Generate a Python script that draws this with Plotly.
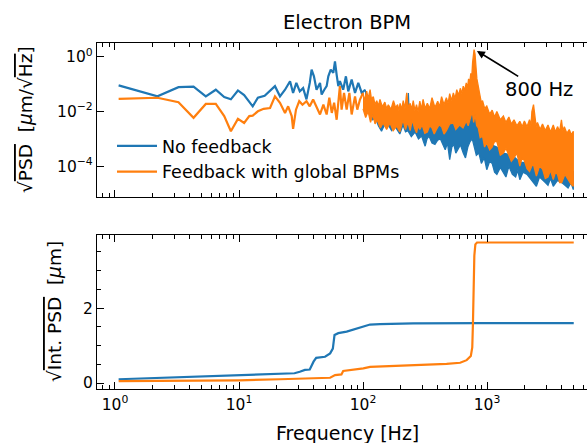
import plotly.graph_objects as go

# ---------------- data ----------------
# top panel: sqrt(PSD) [um/sqrt(Hz)], low-frequency part drawn as line
nf_f = [1.07, 2.2, 3.25, 4.3, 5.4, 6.5, 7.6, 8.6, 9.8, 11.0, 12.9, 14.2, 16.1, 19.5, 21.4,
        23.5, 25.8, 27.3, 29.0, 30.9, 32.9, 35.0, 37.2, 38.5, 40.2, 42.2, 45.0, 46.4, 48.7,
        50.9, 52.5, 54.9, 57.6, 59.4, 61.3, 63.2, 65.1, 69.2, 72.8, 76.0, 81.0, 86.2, 91.6,
        97.6, 104]
nf_psd = [9.1e-2, 3.6e-2, 7.8e-2, 8.1e-2, 3.6e-2, 6.3e-2, 3.4e-2, 2.8e-2, 5.9e-2, 4.0e-2,
          1.55e-2, 3.2e-2, 3.8e-2, 8.5e-2, 3.6e-2, 6.3e-2, 1.29e-1, 4.8e-2, 1.12e-1, 5.5e-2,
          7.2e-2, 2.8e-2, 1.12e-1, 3.4e-1, 1.95e-1, 6.3e-2, 1.12e-1, 4.2e-2, 6.3e-2, 8.5e-2,
          1.95e-1, 3.4e-1, 2.6e-1, 6.9e-1, 2.2e-1, 8.5e-2, 1.29e-1, 6.3e-2, 1.95e-1, 5.5e-2,
          1.48e-1, 4.8e-2, 1.12e-1, 4.8e-2, 6.3e-2]

fb_f = [1.07, 2.2, 3.25, 4.3, 5.4, 6.5, 7.6, 8.6, 9.8, 11.0, 12.1, 12.9, 14.2, 15.8, 17.8,
        19.5, 21.4, 23.5, 24.9, 26.6, 27.3, 28.8, 30.6, 32.5, 35.0, 37.2, 39.6, 42.2, 45.0,
        47.9, 50.9, 53.5, 56.0, 58.5, 61.3, 65.1, 67.2, 70.3, 73.8, 77.6, 81.0, 86.2, 89.9,
        94.5, 100]
fb_psd = [2.9e-2, 3.2e-2, 2.2e-2, 5.9e-3, 1.9e-2, 1.9e-2, 6.8e-3, 1.9e-3, 5.4e-3, 3.8e-3,
          6.8e-3, 7.1e-3, 1.02e-2, 1.26e-2, 1.35e-2, 3.6e-2, 2.1e-2, 8.9e-3, 1.55e-2, 6.8e-3,
          2.3e-3, 1.17e-2, 2.4e-2, 1.78e-2, 2.4e-2, 1.55e-2, 2.75e-2, 1.55e-2, 7.8e-3, 1.78e-2,
          7.8e-3, 3.2e-2, 8.9e-3, 2.1e-2, 5.0e-3, 8.5e-2, 1.17e-2, 4.8e-2, 1.17e-2, 4.8e-2,
          7.8e-3, 3.6e-2, 1.17e-2, 2.75e-2, 4.8e-2]

# high-frequency part: dense spectra read as upper / lower envelopes
nf_up_f = [104, 107, 110, 113, 117, 121, 125, 129, 133, 137, 141, 145, 150, 155, 160, 165,
           170, 178, 187, 193, 199, 205, 211, 217, 222, 227, 232, 237, 242, 250, 260, 270,
           280, 290, 300, 350, 417, 480, 535, 600, 680, 730, 770, 800, 822, 900, 995, 1200,
           1355, 1600, 1838, 2500, 3420, 4960]
nf_up = [6.3e-2, 3.0e-2, 3.6e-2, 1.8e-2, 2.4e-2, 1.2e-2, 1.17e-2, 1.8e-2, 1.58e-2, 8.0e-3,
         1.0e-2, 5.0e-3, 1.26e-2, 7.0e-3, 1.0e-2, 5.0e-3, 1.41e-2, 6.0e-3, 7.9e-3, 5.0e-3,
         1.0e-2, 5.0e-3, 1.17e-2, 4.5e-3, 6.3e-3, 4.0e-3, 4.8e-2, 4.0e-3, 6.3e-3, 3.5e-3,
         7.9e-3, 3.5e-3, 6.8e-3, 3.0e-3, 5.0e-3, 4.0e-3, 3.2e-3, 4.0e-3, 3.8e-3, 5.0e-3,
         6.3e-3, 8.9e-3, 2.4e-2, 1.0e-2, 5.0e-3, 1.58e-3, 7.1e-4, 5.0e-4, 3.0e-4, 2.5e-4,
         1.41e-4, 1.26e-4, 7.9e-5, 6.3e-5]
nf_lo_f = [104, 107, 110, 115, 120, 125, 133, 141, 150, 160, 170, 180, 187, 198, 210, 220,
           230, 245, 263, 280, 297, 307, 317, 328, 340, 360, 380, 400, 420, 440, 460, 480,
           500, 520, 540, 560, 580, 610, 643, 670, 700, 730, 760, 790, 820, 860, 900, 950,
           995, 1050, 1100, 1150, 1200, 1280, 1355, 1420, 1500, 1600, 1700, 1770, 1838, 1950,
           2100, 2300, 2500, 2650, 2800, 2950, 3100, 3250, 3420, 3700, 4000, 4250, 4500, 4750,
           4960]
nf_lo = [3.2e-2, 1.5e-2, 1.26e-2, 8.0e-3, 5.0e-3, 6.3e-3, 3.0e-3, 1.9e-3, 3.5e-3, 3.2e-3,
         2.0e-3, 3.0e-3, 2.2e-3, 1.5e-3, 3.2e-3, 1.8e-3, 2.0e-3, 1.2e-3, 1.78e-3, 1.0e-3,
         1.26e-3, 8.0e-4, 5.4e-4, 1.0e-3, 1.26e-3, 7.0e-4, 6.3e-4, 9.0e-4, 1.0e-3, 6.0e-4,
         4.0e-4, 7.0e-4, 1.74e-4, 5.0e-4, 6.3e-4, 3.0e-4, 4.0e-4, 6.0e-4, 3.0e-4, 2.0e-4,
         5.0e-4, 8.0e-4, 1.0e-3, 5.0e-4, 2.5e-4, 3.0e-4, 1.26e-4, 2.0e-4, 7.4e-5, 1.5e-4,
         1.26e-4, 6.0e-5, 5.0e-5, 9.0e-5, 5.6e-5, 4.0e-5, 1.0e-4, 5.0e-5, 4.0e-5, 7.0e-5,
         3.2e-5, 6.0e-5, 5.0e-5, 3.0e-5, 1.82e-5, 4.0e-5, 3.2e-5, 2.5e-5, 2.0e-5, 3.5e-5,
         1.82e-5, 3.0e-5, 2.5e-5, 2.0e-5, 1.58e-5, 2.5e-5, 1.38e-5]

fb_up_f = [100, 103, 107, 110, 114, 117, 121, 125, 129, 133, 137, 143, 150, 155, 160, 168,
           176, 183, 190, 195, 199, 205, 211, 218, 225, 232, 240, 247, 254, 262, 270, 278,
           287, 296, 305, 317, 330, 345, 360, 380, 400, 415, 430, 450, 470, 485, 500, 517,
           535, 552, 570, 590, 610, 625, 643, 660, 680, 695, 710, 725, 740, 752, 765, 786,
           800, 815, 828, 840, 858, 876, 898, 920, 957, 995, 1050, 1100, 1150, 1200, 1280,
           1355, 1420, 1500, 1570, 1650, 1740, 1838, 1920, 2000, 2100, 2200, 2260, 2300, 2370,
           2430, 2490, 2550, 2680, 2800, 2950, 3100, 3250, 3420, 3560, 3700, 3850, 3980, 4080,
           4200, 4400, 4600, 4780, 4960]
fb_up = [4.8e-2, 2.5e-2, 5.6e-2, 3.0e-2, 6.3e-2, 2.8e-2, 3.5e-2, 1.8e-2, 2.5e-2, 1.6e-2,
         2.8e-2, 1.5e-2, 2.2e-2, 1.3e-2, 1.78e-2, 1.2e-2, 2.5e-2, 1.4e-2, 1.78e-2, 1.1e-2,
         2.0e-2, 1.2e-2, 2.5e-2, 1.3e-2, 4.8e-2, 1.4e-2, 2.0e-2, 1.2e-2, 2.5e-2, 1.1e-2,
         1.78e-2, 1.0e-2, 2.4e-2, 1.2e-2, 2.8e-2, 1.3e-2, 2.0e-2, 1.3e-2, 3.2e-2, 1.4e-2,
         2.4e-2, 1.5e-2, 3.5e-2, 1.8e-2, 3.2e-2, 2.0e-2, 4.5e-2, 2.5e-2, 4.8e-2, 3.0e-2,
         6.3e-2, 4.0e-2, 7.1e-2, 4.5e-2, 8.5e-2, 6.0e-2, 1.12e-1, 7.0e-2, 1.58e-1, 1.1e-1,
         2.5e-1, 1.6e-1, 6.3e-1, 1.86, 1.26, 3.2e-1, 1.6e-1, 1.12e-1, 5.5e-2, 4.0e-2,
         2.2e-2, 2.5e-2, 1.3e-2, 1.58e-2, 8.0e-3, 1.12e-2, 6.3e-3, 1.0e-2, 5.0e-3, 6.8e-3,
         4.0e-3, 6.3e-3, 3.5e-3, 5.0e-3, 3.0e-3, 4.4e-3, 2.8e-3, 4.5e-3, 2.8e-3, 5.0e-3,
         3.0e-3, 1.0e-2, 1.78e-2, 7.9e-3, 2.8e-3, 4.0e-3, 2.2e-3, 3.5e-3, 2.0e-3, 3.2e-3,
         1.8e-3, 3.2e-3, 1.8e-3, 2.8e-3, 1.9e-3, 5.0e-3, 2.0e-3, 2.8e-3, 1.6e-3, 2.2e-3,
         1.4e-3, 1.9e-3]
fb_lo_f = [100, 105, 110, 115, 120, 125, 130, 138, 145, 155, 165, 175, 187, 198, 210, 220,
           230, 240, 250, 260, 270, 278, 287, 300, 315, 330, 345, 360, 375, 391, 410, 430,
           450, 470, 500, 535, 560, 600, 640, 680, 705, 730, 760, 780, 800, 825, 850, 880,
           920, 955, 995, 1050, 1100, 1150, 1200, 1280, 1355, 1420, 1500, 1570, 1650, 1740,
           1838, 1920, 2000, 2100, 2200, 2350, 2500, 2650, 2800, 2950, 3100, 3250, 3420, 3560,
           3700, 3850, 4000, 4250, 4500, 4750, 4960]
fb_lo = [1.26e-2, 6.0e-3, 1.0e-2, 4.0e-3, 7.9e-3, 3.5e-3, 5.0e-3, 2.5e-3, 3.8e-3, 2.2e-3,
         3.8e-3, 2.0e-3, 2.9e-3, 1.8e-3, 5.0e-3, 2.2e-3, 4.0e-3, 2.0e-3, 5.0e-3, 2.5e-3,
         1.66e-3, 3.0e-3, 2.2e-3, 3.2e-3, 1.6e-3, 1.78e-3, 3.0e-3, 2.5e-3, 1.5e-3, 2.2e-3,
         3.2e-3, 2.8e-3, 1.5e-3, 2.0e-3, 3.5e-3, 3.8e-3, 2.2e-3, 3.2e-3, 2.5e-3, 4.5e-3,
         3.0e-3, 5.0e-3, 1.0e-2, 4.0e-3, 7.9e-3, 3.0e-3, 2.5e-3, 1.1e-3, 1.26e-3, 5.0e-4,
         7.1e-4, 4.0e-4, 5.0e-4, 8.0e-4, 7.9e-4, 2.5e-4, 3.0e-4, 4.5e-4, 2.5e-4, 1.5e-4,
         2.0e-4, 3.0e-4, 1.0e-4, 2.0e-4, 1.58e-4, 8.0e-5, 6.3e-5, 1.3e-4, 4.3e-5, 1.0e-4,
         7.9e-5, 3.5e-5, 4.0e-5, 7.0e-5, 3.2e-5, 6.0e-5, 5.0e-5, 2.5e-5, 2.5e-5, 5.0e-5,
         3.2e-5, 2.2e-5, 1.82e-5]

# bottom panel: sqrt(integrated PSD) [um]
nf_cum_f = [1.07, 4.8, 10, 18.9, 21.4, 28, 30.9, 34, 37.2, 39.9, 41.9, 49.4, 54.3, 57.1, 58.9,
            63.2, 73.8, 83.5, 94.5, 103.7, 113.9, 137, 254, 881, 5000]
nf_cum = [0.10, 0.17, 0.20, 0.23, 0.24, 0.26, 0.30, 0.35, 0.36, 0.57, 0.67, 0.70, 0.79, 0.92,
          1.28, 1.33, 1.37, 1.43, 1.47, 1.52, 1.56, 1.57, 1.59, 1.60, 1.60]
fb_cum_f = [1.07, 10, 21.4, 54.3, 59.5, 67, 69.2, 83.5, 100.6, 114, 137, 254, 472, 607, 685,
            740, 760, 770, 780, 790, 805, 830, 5000]
fb_cum = [0.05, 0.07, 0.10, 0.14, 0.21, 0.23, 0.32, 0.35, 0.39, 0.43, 0.44, 0.47, 0.51, 0.54,
          0.61, 0.72, 0.95, 1.6, 2.6, 3.4, 3.7, 3.75, 3.75]

names = ["No feedback", "Feedback with global BPMs"]
x_major = [1, 10, 100, 1000]
x_major_text = ["10<sup>0</sup>", "10<sup>1</sup>", "10<sup>2</sup>", "10<sup>3</sup>"]
x_minor = [0.8, 0.9, 2, 3, 4, 5, 6, 7, 8, 9, 20, 30, 40, 50, 60, 70, 80, 90,
           200, 300, 400, 500, 600, 700, 800, 900, 2000, 3000, 4000, 5000, 6000]
y1_major = [1e-4, 1e-2, 1]
y1_major_text = ["10<sup>\u22124</sup>", "10<sup>\u22122</sup>", "10<sup>0</sup>"]
y2_major = [0, 2]
y2_major_text = ["0", "2"]
y2_minor = [0.5, 1, 1.5, 2.5, 3, 3.5]

# ---------------- figure ----------------
BLUE = "#1f77b4"
ORANGE = "#ff7f0e"
FONT = "DejaVu Sans"
LW = 2.2

fig = go.Figure()


def band(fu, vu, fl, vl):
    return fu + fl[::-1], vu + vl[::-1]


bx, by = band(nf_up_f, nf_up, nf_lo_f, nf_lo)
ox, oy = band(fb_up_f, fb_up, fb_lo_f, fb_lo)

fig.add_trace(go.Scatter(x=nf_f, y=nf_psd, mode="lines", name=names[0],
                         line=dict(color=BLUE, width=LW), xaxis="x2", yaxis="y2",
                         legendgroup="nf"))
fig.add_trace(go.Scatter(x=bx, y=by, mode="lines", fill="toself", fillcolor=BLUE,
                         line=dict(color=BLUE, width=1.3), xaxis="x2", yaxis="y2",
                         showlegend=False, legendgroup="nf"))
fig.add_trace(go.Scatter(x=fb_f, y=fb_psd, mode="lines", name=names[1],
                         line=dict(color=ORANGE, width=LW), xaxis="x2", yaxis="y2",
                         legendgroup="fb"))
fig.add_trace(go.Scatter(x=ox, y=oy, mode="lines", fill="toself", fillcolor=ORANGE,
                         line=dict(color=ORANGE, width=1.3), xaxis="x2", yaxis="y2",
                         showlegend=False, legendgroup="fb"))
fig.add_trace(go.Scatter(x=nf_cum_f, y=nf_cum, mode="lines", line=dict(color=BLUE, width=LW),
                         xaxis="x", yaxis="y", showlegend=False))
fig.add_trace(go.Scatter(x=fb_cum_f, y=fb_cum, mode="lines", line=dict(color=ORANGE, width=LW),
                         xaxis="x", yaxis="y", showlegend=False))

W, H = 587, 443
ML, MR, MT, MB = 97, 0, 43, 54
PW, PH = W - ML - MR, H - MT - MB


def px_to_paper_y(py):
    return (H - MB - py) / PH


def px_to_paper_x(px):
    return (px - ML) / PW


axis_common = dict(showline=True, linecolor="black", linewidth=1.3, ticks="inside",
                   ticklen=7, tickwidth=1.3, tickcolor="black", showgrid=False,
                   zeroline=False, tickfont=dict(family=FONT, size=15.5, color="black"))
minor_common = dict(ticks="inside", ticklen=4, tickwidth=1, tickcolor="black", showgrid=False)

xr = [-0.145, 3.806]
fig.update_layout(
    width=W, height=H,
    margin=dict(l=ML, r=MR, t=MT, b=MB),
    paper_bgcolor="white", plot_bgcolor="white",
    font=dict(family=FONT, color="black"),
    xaxis=dict(domain=[0, 1], anchor="y", type="log", range=xr, mirror="ticks",
               tickmode="array", tickvals=x_major, ticktext=x_major_text,
               ticklabelstandoff=1,
               minor=dict(tickvals=x_minor, **minor_common),
               **axis_common),
    xaxis2=dict(domain=[0, 1], anchor="y2", type="log", range=xr, mirror="ticks",
                matches="x", showticklabels=False,
                tickmode="array", tickvals=x_major, ticktext=x_major_text,
                minor=dict(tickvals=x_minor, **minor_common),
                **axis_common),
    yaxis=dict(domain=[0, px_to_paper_y(235)], anchor="x", range=[-0.16, 3.95],
               tickmode="array", tickvals=y2_major, ticktext=y2_major_text,
               minor=dict(tickvals=y2_minor, **minor_common),
               **axis_common),
    yaxis2=dict(domain=[px_to_paper_y(197), 1], anchor="x2", type="log", range=[-5.13, 0.51],
                tickmode="array", tickvals=y1_major, ticktext=y1_major_text,
                **axis_common),
    showlegend=True,
    legend=dict(x=px_to_paper_x(112), y=px_to_paper_y(128), xanchor="left", yanchor="top",
                bgcolor="rgba(0,0,0,0)", font=dict(family=FONT, size=17.5, color="black"),
                traceorder="normal", itemwidth=40),
)

ov = "text-decoration:overline"
annotations = [
    dict(text="Electron BPM", x=px_to_paper_x(347), y=px_to_paper_y(23), xref="paper",
         yref="paper", showarrow=False, xanchor="center", yanchor="middle",
         font=dict(family=FONT, size=19.5, color="black")),
    dict(text="Frequency [Hz]", x=px_to_paper_x(347), y=px_to_paper_y(433), xref="paper",
         yref="paper", showarrow=False, xanchor="center", yanchor="middle",
         font=dict(family=FONT, size=19, color="black")),
    dict(text="\u221a<span style='%s'>PSD</span>  [<i>\u03bc</i>m/\u221a<span style='%s'>Hz</span>]" % (ov, ov),
         x=px_to_paper_x(25), y=px_to_paper_y(120), xref="paper", yref="paper",
         showarrow=False, textangle=-90, xanchor="center", yanchor="middle",
         font=dict(family=FONT, size=18.5, color="black")),
    dict(text="\u221a<span style='%s'>Int. PSD</span>  [<i>\u03bc</i>m]" % ov,
         x=px_to_paper_x(54), y=px_to_paper_y(312), xref="paper", yref="paper",
         showarrow=False, textangle=-90, xanchor="center", yanchor="middle",
         font=dict(family=FONT, size=18.5, color="black")),
    dict(text="800 Hz", x=2.8976, y=0.2788, xref="x2", yref="y2", showarrow=True,
         ax=65, ay=40, arrowhead=2, arrowsize=1, arrowwidth=1.6, arrowcolor="black",
         standoff=3, font=dict(family=FONT, size=19.5, color="black")),
]
fig.update_layout(annotations=annotations)

fig.write_html("out.html", config={"displayModeBar": False},
               post_script="document.body.style.margin='0px';")
